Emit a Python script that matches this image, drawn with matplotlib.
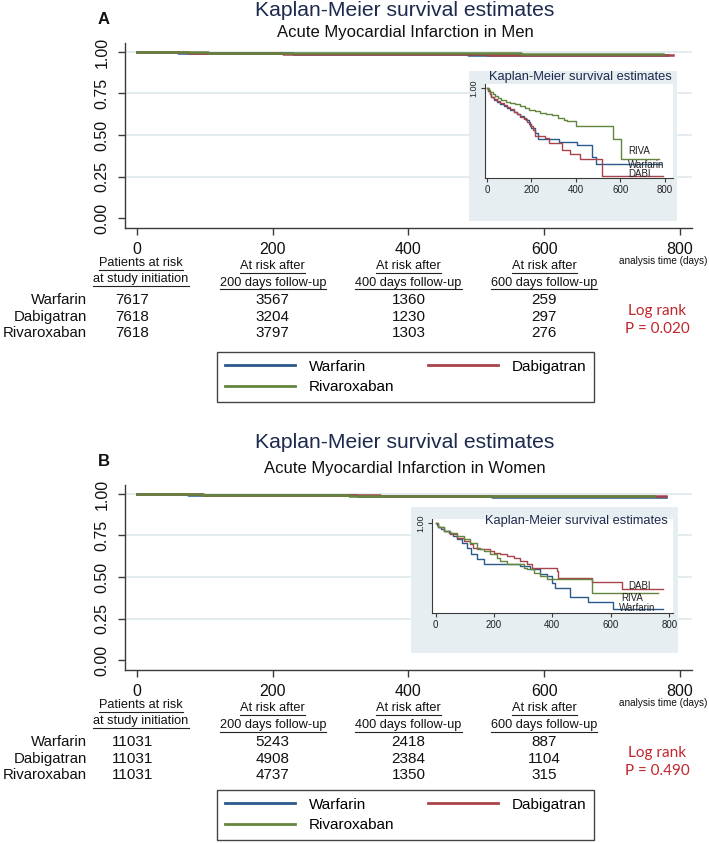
import matplotlib
matplotlib.use("Agg")
import matplotlib.pyplot as plt
import matplotlib.transforms as mtransforms
from matplotlib.lines import Line2D

plt.rcParams['font.family'] = ['Liberation Sans', 'DejaVu Sans']

# ------------------------------------------------------------------ data
drugs = ['Warfarin', 'Dabigatran', 'Rivaroxaban']
inset_names = ['Warfarin', 'DABI', 'RIVA']
colors = ['#2b5b8b', '#a9434b', '#64853d']

time_ticks = [0, 200, 400, 600, 800]
surv_ticks = [0.0, 0.25, 0.50, 0.75, 1.00]
risk_times = [0, 200, 400, 600]
risk_headers = ['Patients at risk\nat study initiation',
                'At risk after\n200 days follow-up',
                'At risk after\n400 days follow-up',
                'At risk after\n600 days follow-up']

men_risk_warfarin = [7617, 3567, 1360, 259]
men_risk_dabigatran = [7618, 3204, 1230, 297]
men_risk_rivaroxaban = [7618, 3797, 1303, 276]
women_risk_warfarin = [11031, 5243, 2418, 887]
women_risk_dabigatran = [11031, 4908, 2384, 1104]
women_risk_rivaroxaban = [11031, 4737, 1350, 315]

men_logrank_p = '0.020'
women_logrank_p = '0.490'

# Kaplan-Meier step curves (days, survival)
men_warfarin_t = [0, 5, 12, 20, 30, 45, 60, 75, 90, 105, 120, 135, 150, 165, 175, 190, 200, 215, 230, 323, 404, 471, 488, 782]
men_warfarin_s = [1.0, .9994, .9988, .9982, .9976, .9972, .9968, .9964, .9960, .9956, .9952, .9948, .9944, .9940, .9936, .9928, .9920, .9910, .9897, .9891, .9885, .9863, .9847, .9847]
men_dabigatran_t = [0, 5, 12, 20, 30, 45, 60, 75, 90, 105, 120, 135, 150, 165, 180, 195, 205, 215, 260, 280, 335, 375, 420, 515, 790]
men_dabigatran_s = [1.0, .9994, .9988, .9982, .9978, .9974, .9970, .9966, .9962, .9958, .9952, .9948, .9942, .9938, .9932, .9924, .9916, .9904, .9900, .9890, .9876, .9867, .9857, .9824, .9824]
men_rivaroxaban_t = [0, 8, 15, 25, 37, 50, 65, 85, 105, 125, 150, 170, 190, 215, 240, 265, 290, 320, 345, 360, 402, 566, 603, 775]
men_rivaroxaban_s = [1.0, .9996, .9992, .9988, .9984, .9979, .9975, .9972, .9969, .9967, .9964, .9960, .9956, .9953, .9950, .9948, .9946, .9940, .9936, .9933, .9923, .9897, .9857, .9857]

women_warfarin_t = [0, 5, 10, 20, 30, 45, 60, 75, 90, 108, 120, 142, 165, 290, 324, 358, 381, 398, 410, 461, 523, 609, 780]
women_warfarin_s = [1.0, .9996, .9992, .9988, .9984, .9980, .9974, .9968, .9960, .9950, .9937, .9927, .9917, .9913, .9907, .9897, .9893, .9880, .9870, .9853, .9843, .9827, .9827]
women_dabigatran_t = [0, 10, 28, 51, 74, 97, 119, 130, 153, 188, 199, 222, 245, 268, 290, 313, 330, 358, 415, 421, 535, 637, 780]
women_dabigatran_s = [1.0, .9992, .9983, .9977, .9970, .9963, .9957, .9950, .9947, .9943, .9940, .9937, .9933, .9930, .9923, .9917, .9910, .9909, .9903, .9890, .9882, .9867, .9867]
women_rivaroxaban_t = [0, 10, 28, 51, 74, 97, 119, 142, 165, 188, 211, 222, 245, 302, 313, 336, 358, 381, 535, 762]
women_rivaroxaban_s = [1.0, .9992, .9983, .9980, .9973, .9967, .9960, .9948, .9943, .9937, .9930, .9923, .9917, .9910, .9907, .9900, .9893, .9887, .9860, .9860]

# ------------------------------------------------------------------ style
W, H, DPI = 709, 843, 100
TITLE_C = '#1c2a4e'
GRID_C = '#e3ebee'
BOX_C = '#e6eef1'
SPINE_C = '#3a3a3a'
RED_TXT = '#c0262d'
TXT_C = '#111111'

fig = plt.figure(figsize=(W / DPI, H / DPI), dpi=DPI, facecolor='white')


def fx(x):
    return x / W


def fy(y):
    return 1 - y / H


def axes_px(l, t, r, b):
    return fig.add_axes([l / W, 1 - b / H, (r - l) / W, (b - t) / H])


underline_texts = []


def draw_panel(dy, letter, subtitle, title_y, letter_y, sub_y, curves, risk, p_text,
               box, inset_rect, inset_xlim, ititle_x, ititle_y, ititle_ha, label_pos, leg_top):
    # titles
    fig.text(fx(405), fy(title_y), 'Kaplan-Meier survival estimates', ha='center', va='center',
             fontsize=15.2, color=TITLE_C)
    fig.text(fx(405), fy(sub_y), subtitle, ha='center', va='center', fontsize=12, color=TXT_C)
    fig.text(fx(104), fy(letter_y), letter, ha='center', va='center', fontsize=12,
             fontweight='bold', color=TXT_C)

    # main axes
    ax = axes_px(125, 43 + dy, 692, 228 + dy)
    ax.set_xlim(-17.7, 817.7)
    ax.set_ylim(-0.0602, 1.0542)
    for g in surv_ticks[1:]:
        ax.axhline(g, color=GRID_C, lw=1.3, zorder=0)
    for sp in ['top', 'right']:
        ax.spines[sp].set_visible(False)
    for sp in ['left', 'bottom']:
        ax.spines[sp].set_color(SPINE_C)
        ax.spines[sp].set_linewidth(1.0)
    ax.set_xticks(time_ticks)
    ax.set_xticklabels([str(t) for t in time_ticks])
    ax.set_yticks(surv_ticks)
    ax.set_yticklabels(['%.2f' % v for v in surv_ticks], rotation=90, va='center')
    ax.tick_params(axis='both', direction='out', length=5, width=1, color=SPINE_C,
                   labelsize=11.5, labelcolor=TXT_C)
    ax.tick_params(axis='x', pad=5)
    ax.tick_params(axis='y', pad=6)
    handles = []
    for (t, s), c, name in zip(curves, colors, drugs):
        h, = ax.step(t, s, where='post', color=c, lw=1.8, label=name)
        handles.append(h)

    # inset background box
    bax = axes_px(*box)
    bax.set_facecolor(BOX_C)
    bax.set_xticks([])
    bax.set_yticks([])
    for sp in bax.spines.values():
        sp.set_visible(False)

    iax = axes_px(*inset_rect)
    iax.set_facecolor('white')
    iax.set_xlim(*inset_xlim)
    iax.set_ylim(0.982, 1.0008)
    for sp in ['top', 'right']:
        iax.spines[sp].set_visible(False)
    for sp in ['left', 'bottom']:
        iax.spines[sp].set_color(SPINE_C)
        iax.spines[sp].set_linewidth(0.8)
    iax.set_xticks(time_ticks)
    iax.set_xticklabels([str(t) for t in time_ticks])
    iax.set_yticks([1.0])
    iax.set_yticklabels(['1.00'], rotation=90, va='center')
    iax.tick_params(axis='both', direction='out', length=3, width=0.8, color=SPINE_C,
                    labelsize=7, pad=2, labelcolor='#222222')
    iax.tick_params(axis='y', labelsize=6.5)
    for (t, s), c in zip(curves, colors):
        iax.step(t, s, where='post', color=c, lw=1.0)
    for name, (lx, ly, ha) in zip(inset_names, label_pos):
        iax.text(lx, ly, name, fontsize=7, ha=ha, va='center', color='#222222')
    fig.text(fx(ititle_x), fy(ititle_y), 'Kaplan-Meier survival estimates', ha=ititle_ha,
             va='center', fontsize=9.3, color=TITLE_C)

    # risk table
    trans = mtransforms.blended_transform_factory(ax.transData, fig.transFigure)
    fig.text(fx(707), fy(261 + dy), 'analysis time (days)', ha='right', va='center',
             fontsize=7.2, color=TXT_C)
    for i, (tt, hdr) in enumerate(zip(risk_times, risk_headers)):
        ys = (263, 279) if i == 0 else (266, 283)
        xoff = 6 if i == 0 else 0
        for line, yy in zip(hdr.split('\n'), ys):
            txt = ax.text(tt + xoff, fy(yy + dy), line, transform=trans, ha='center', va='center',
                          fontsize=9.2, color=TXT_C, clip_on=False)
            underline_texts.append(txt)
    for r, (name, vals) in enumerate(zip(drugs, risk)):
        yy = (300, 317, 333)[r] + dy
        fig.text(fx(87), fy(yy), name, ha='right', va='center', fontsize=10.8, color=TXT_C)
        for i, (tt, v) in enumerate(zip(risk_times, vals)):
            xoff = -7 if i == 0 else 0
            ax.text(tt + xoff, fy(yy), str(v), transform=trans, ha='center', va='center',
                    fontsize=11, color=TXT_C, clip_on=False)
    fig.text(fx(657), fy(311 + dy), 'Log rank', ha='center', va='center', fontsize=11,
             color=RED_TXT, family=['Lato', 'DejaVu Sans'])
    fig.text(fx(657), fy(329 + dy), 'P = ' + p_text, ha='center', va='center', fontsize=11,
             color=RED_TXT, family=['Lato', 'DejaVu Sans'])

    # legend: row 1 Warfarin, Dabigatran; row 2 Rivaroxaban
    order = [0, 2, 1]
    leg_l, leg_r, leg_h = 217, 594, 51
    leg = fig.legend([handles[k] for k in order], [drugs[k] for k in order], ncol=2,
                     loc='upper left',
                     bbox_to_anchor=(fx(leg_l), fy(leg_top + leg_h), (leg_r - leg_l) / W, leg_h / H),
                     mode='expand', borderaxespad=0, fontsize=11, handlelength=4.6,
                     handletextpad=0.9, labelspacing=0.42, borderpad=0.5, columnspacing=1.5,
                     fancybox=False, framealpha=1, edgecolor='#444444')
    leg.get_frame().set_linewidth(1.0)
    for lh in leg.get_lines():
        lh.set_linewidth(2.0)


men_curves = [(men_warfarin_t, men_warfarin_s), (men_dabigatran_t, men_dabigatran_s),
              (men_rivaroxaban_t, men_rivaroxaban_s)]
women_curves = [(women_warfarin_t, women_warfarin_s), (women_dabigatran_t, women_dabigatran_s),
                (women_rivaroxaban_t, women_rivaroxaban_s)]

draw_panel(0, 'A', 'Acute Myocardial Infarction in Men', 10, 20, 32, men_curves,
           [men_risk_warfarin, men_risk_dabigatran, men_risk_rivaroxaban], men_logrank_p,
           box=(469, 71, 677, 221), inset_rect=(485, 84, 673, 178), inset_xlim=(-9, 836),
           ititle_x=580, ititle_y=77, ititle_ha='center',
           label_pos=[(634, 0.9846, 'left'), (634, 0.9828, 'left'), (634, 0.9874, 'left')],
           leg_top=352)

draw_panel(442, 'B', 'Acute Myocardial Infarction in Women', 443, 461, 469, women_curves,
           [women_risk_warfarin, women_risk_dabigatran, women_risk_rivaroxaban], women_logrank_p,
           box=(411, 507, 678, 653), inset_rect=(432, 519, 673, 613), inset_xlim=(-12, 813),
           ititle_x=668, ititle_y=521, ititle_ha='right',
           label_pos=[(689, 0.9830, 'center'), (699, 0.9874, 'center'), (675, 0.9850, 'center')],
           leg_top=790)

# underline the risk-table headers
fig.canvas.draw()
renderer = fig.canvas.get_renderer()
for txt in underline_texts:
    bb = txt.get_window_extent(renderer=renderer)
    yline = (bb.y0 - 0.5) / H
    fig.add_artist(Line2D([bb.x0 / W, bb.x1 / W], [yline, yline], transform=fig.transFigure,
                          color='#222222', lw=0.8))

fig.savefig('out.png', dpi=DPI)
